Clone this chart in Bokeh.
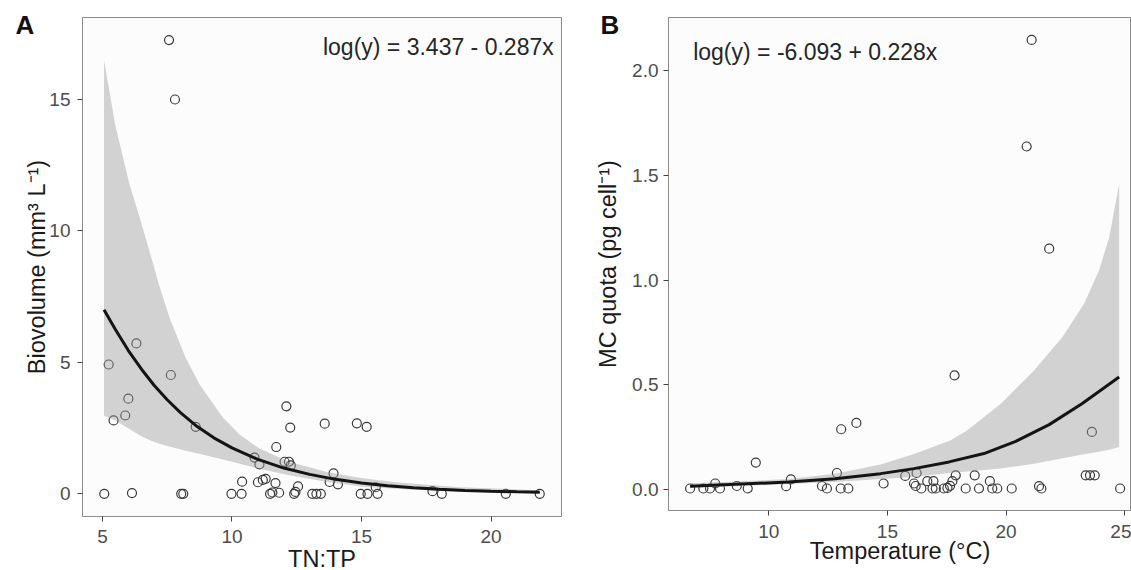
from bokeh.plotting import figure
from bokeh.layouts import row
from bokeh.models import FixedTicker, Label, NumeralTickFormatter, Title
from bokeh.embed import file_html
from bokeh.resources import INLINE

# ---------------- Panel A data ----------------
tntp = [5.07, 5.24, 5.43, 5.88, 6.0, 6.14, 6.31, 7.57, 7.64, 7.8, 8.04, 8.12, 8.6,
        9.98, 10.37, 10.39, 10.87, 11.06, 11.0, 11.19, 11.3, 11.47, 11.56, 11.68,
        11.71, 11.82, 12.03, 12.2, 12.27, 12.1, 12.25, 12.4, 12.45, 12.55, 13.1,
        13.26, 13.43, 13.58, 13.77, 13.92, 14.09, 14.82, 15.2, 14.97, 15.23, 15.62,
        15.55, 17.74, 18.1, 20.57, 21.88]
biovolume = [0.0, 4.92, 2.79, 2.98, 3.62, 0.03, 5.72, 17.26, 4.52, 15.0, 0.0, 0.0, 2.55,
             0.0, 0.0, 0.46, 1.38, 1.12, 0.44, 0.53, 0.57, 0.0, 0.05, 0.41,
             1.78, 0.04, 1.22, 1.22, 1.08, 3.33, 2.52, 0.0, 0.07, 0.28, 0.0,
             0.0, 0.0, 2.67, 0.45, 0.78, 0.36, 2.68, 2.55, 0.0, 0.0, 0.0,
             0.25, 0.1, 0.0, 0.0, 0.0]
fitA_x = [5.06, 5.5, 6.0, 6.5, 7.0, 7.5, 8.0, 8.6, 9.3, 10.0, 11.0, 12.0, 13.0, 14.0,
          15.0, 16.0, 17.0, 18.0, 19.0, 20.0, 21.0, 21.88]
fitA_y = [7.0, 6.25, 5.45, 4.75, 4.12, 3.58, 3.1, 2.6, 2.13, 1.75, 1.31, 0.98, 0.74, 0.55,
          0.41, 0.31, 0.23, 0.17, 0.13, 0.1, 0.075, 0.058]
bandA_x = [5.06, 5.5, 6.04, 6.5, 6.81, 7.2, 7.59, 8.2, 8.74, 9.64, 10.3, 11.06, 12.2,
           13.7, 15.0, 16.3, 18.8, 21.88]
bandA_hi = [16.5, 14.0, 11.8, 10.3, 9.25, 7.9, 6.7, 5.2, 4.18, 2.91, 2.25, 1.72, 1.22,
            0.82, 0.6, 0.44, 0.25, 0.14]
bandA_lo = [2.97, 2.79, 2.47, 2.19, 2.05, 1.9, 1.8, 1.64, 1.52, 1.31, 1.14, 0.95, 0.71,
            0.45, 0.28, 0.19, 0.078, 0.024]
ticksA_x = [5, 10, 15, 20]
ticksA_y = [0, 5, 10, 15]
eqA = "log(y) = 3.437 - 0.287x"

# ---------------- Panel B data ----------------
temperature = [6.68, 7.24, 7.52, 7.74, 7.94, 8.65, 9.11, 9.45, 10.73, 10.93, 12.24, 12.45,
               12.87, 13.05, 13.03, 13.35, 13.69, 14.84, 15.75, 16.12, 16.19, 16.23,
               16.43, 16.68, 16.94, 16.9, 17.04, 17.38, 17.53, 17.64, 17.74, 17.88,
               17.83, 18.3, 18.68, 18.86, 19.32, 19.42, 19.63, 20.24, 20.87, 21.08,
               21.82, 21.39, 21.49, 23.36, 23.54, 23.74, 23.62, 24.81]
mc_quota = [0.005, 0.005, 0.005, 0.029, 0.005, 0.017, 0.005, 0.129, 0.016, 0.049, 0.017, 0.005,
            0.079, 0.288, 0.005, 0.005, 0.318, 0.029, 0.065, 0.029, 0.017, 0.079,
            0.005, 0.04, 0.04, 0.005, 0.005, 0.005, 0.008, 0.018, 0.04, 0.068,
            0.545, 0.005, 0.068, 0.005, 0.04, 0.005, 0.005, 0.005, 1.638, 2.147,
            1.15, 0.016, 0.005, 0.068, 0.068, 0.068, 0.275, 0.005]
fitB_x = [6.68, 8.58, 10.83, 12.8, 14.71, 16.12, 17.6, 19.07, 20.41, 21.82, 23.2, 24.77]
fitB_y = [0.016, 0.025, 0.036, 0.052, 0.076, 0.10, 0.132, 0.172, 0.23, 0.31, 0.41, 0.537]
bandB_x = [6.68, 8.58, 10.83, 12.8, 14.71, 16.12, 17.67, 18.37, 19.78, 21.18, 22.38, 23.29,
           23.92, 24.35, 24.77]
bandB_hi = [0.03, 0.038, 0.05, 0.075, 0.12, 0.17, 0.235, 0.283, 0.41, 0.569, 0.728, 0.887,
            1.046, 1.205, 1.46]
bandB_lo = [0.008, 0.016, 0.026, 0.036, 0.05, 0.06, 0.08, 0.086, 0.1, 0.123, 0.15, 0.168,
            0.18, 0.19, 0.203]
ticksB_x = [10, 15, 20, 25]
ticksB_y = [0.0, 0.5, 1.0, 1.5, 2.0]
eqB = "log(y) = -6.093 + 0.228x"

FONT = "Liberation Sans"


def style(p, xt, yt, xstand, ystand, ylabel_stand):
    p.background_fill_color = "#fcfcfc"
    p.border_fill_color = "white"
    p.outline_line_color = "#8c8c8c"
    p.outline_line_width = 1
    p.grid.visible = False
    p.xaxis.ticker = FixedTicker(ticks=xt)
    p.yaxis.ticker = FixedTicker(ticks=yt)
    for ax in p.axis:
        ax.axis_line_color = None
        ax.major_tick_line_color = "#444444"
        ax.major_tick_line_width = 1
        ax.major_tick_out = 5
        ax.major_tick_in = 0
        ax.minor_tick_line_color = None
        ax.major_label_text_font = FONT
        ax.major_label_text_font_size = "19px"
        ax.major_label_text_color = "#4d4d4d"
        ax.axis_label_text_font = FONT
        ax.axis_label_text_font_size = "23.5px"
        ax.axis_label_text_font_style = "normal"
        ax.axis_label_text_color = "#1a1a1a"
    p.xaxis.major_label_standoff = xstand
    p.yaxis.major_label_standoff = ystand
    p.yaxis.axis_label_standoff = ylabel_stand


def add_label(p, x, y, text, size, align="left", color="#1a1a1a"):
    p.add_layout(Label(x=x, y=y, text=text, text_font=FONT, text_font_size=size,
                       text_align=align, text_baseline="alphabetic",
                       text_color=color))


def add_title(p, text, side, align, size, bold, offset, standoff, fallback):
    t = Title(text=text, align=align, text_font=FONT, text_font_size=size,
              text_font_style="bold" if bold else "normal", text_color="#111111"
              if bold else "#1a1a1a")
    t.offset = offset
    try:
        t.standoff = standoff
    except Exception:
        t.standoff = fallback
    p.add_layout(t, side)


# ---------------- Panel A ----------------
pA = figure(width=570, height=570, x_range=(4.23, 22.72), y_range=(-0.863, 18.12),
            output_backend="svg", toolbar_location=None,
            min_border_left=82, min_border_right=9, min_border_top=17, min_border_bottom=54)
pA.yaxis.axis_label = "Biovolume (mm³ L⁻¹)"
style(pA, ticksA_x, ticksA_y, 8, 7, -4)
pA.scatter(tntp, biovolume, marker="circle", size=9, fill_color=None,
           line_color="#3a3a3a", line_width=1.2)
pA.varea(x=bandA_x, y1=bandA_lo, y2=bandA_hi, fill_color="#999999", fill_alpha=0.42)
pA.line(fitA_x, fitA_y, line_width=3, line_color="#141414")
add_label(pA, 22.42, 17.0, eqA, "23px", align="right", color="#262626")
add_title(pA, "A", "above", "left", "26px", True, -67, -44, 0)
add_title(pA, "TN:TP", "below", "center", "23.5px", False, 0, -4, 0)

# ---------------- Panel B ----------------
pB = figure(width=561, height=564, x_range=(5.77, 25.29), y_range=(-0.1, 2.254),
            output_backend="svg", toolbar_location=None,
            min_border_left=98, min_border_right=0, min_border_top=17, min_border_bottom=54)
pB.yaxis.axis_label = "MC quota (pg cell⁻¹)"
style(pB, ticksB_x, ticksB_y, 9, 5, 8)
pB.yaxis.formatter = NumeralTickFormatter(format="0.0")
pB.scatter(temperature, mc_quota, marker="circle", size=9, fill_color=None,
           line_color="#3a3a3a", line_width=1.2)
pB.varea(x=bandB_x, y1=bandB_lo, y2=bandB_hi, fill_color="#999999", fill_alpha=0.42)
pB.line(fitB_x, fitB_y, line_width=3, line_color="#141414")
add_label(pB, 6.81, 2.09, eqB, "23px", align="left", color="#262626")
add_title(pB, "B", "above", "left", "26px", True, -68, -44, 0)
add_title(pB, "Temperature (°C)", "below", "center", "23.5px", False, 0, -10, 0)

layout = row(pA, pB)
open("out.html", "w").write(file_html(layout, INLINE))
